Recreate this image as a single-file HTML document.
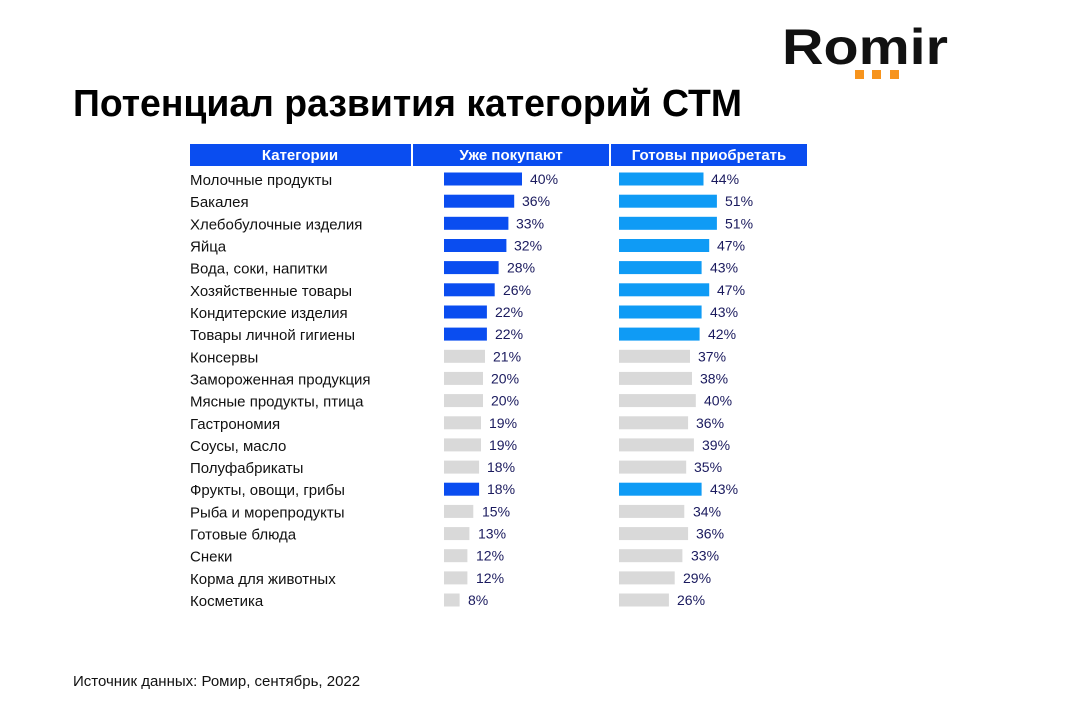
<!DOCTYPE html>
<html><head><meta charset="utf-8"><style>
body{margin:0;background:#fff;}
svg{display:block;}
text{font-family:"Liberation Sans",Arial,sans-serif;}
.c{font-size:15px;fill:#111;}
.v{font-size:14px;fill:#1a1a5e;}
</style></head><body>
<svg width="1066" height="720" viewBox="0 0 1066 720">
<text x="782" y="64" font-size="50" font-weight="bold" fill="#111" textLength="166" lengthAdjust="spacingAndGlyphs">Romir</text>
<rect x="855" y="70" width="9" height="9" fill="#f7941d"/>
<rect x="872" y="70" width="9" height="9" fill="#f7941d"/>
<rect x="890" y="70" width="9" height="9" fill="#f7941d"/>
<text x="73" y="116" font-size="38" font-weight="bold" fill="#000" textLength="669" lengthAdjust="spacingAndGlyphs">Потенциал развития категорий СТМ</text>
<rect x="190" y="144" width="221" height="22" fill="#0a4df0"/>
<rect x="413" y="144" width="196" height="22" fill="#0a4df0"/>
<rect x="611" y="144" width="196" height="22" fill="#0a4df0"/>
<g font-size="15" font-weight="bold" fill="#fff" text-anchor="middle">
<text x="300" y="160">Категории</text>
<text x="511" y="160">Уже покупают</text>
<text x="709" y="160">Готовы приобретать</text>
</g>

<g transform="translate(0,179)"><text class="c" x="190" y="6">Молочные продукты</text><rect x="444" y="-6.5" width="78" height="13" fill="#0a4df0"/><text class="v" x="530" y="5">40%</text><rect x="619" y="-6.5" width="84.5" height="13" fill="#0f9bf5"/><text class="v" x="711" y="5">44%</text></g>
<g transform="translate(0,201.2)"><text class="c" x="190" y="6">Бакалея</text><rect x="444" y="-6.5" width="70.2" height="13" fill="#0a4df0"/><text class="v" x="522" y="5">36%</text><rect x="619" y="-6.5" width="97.9" height="13" fill="#0f9bf5"/><text class="v" x="725" y="5">51%</text></g>
<g transform="translate(0,223.3)"><text class="c" x="190" y="6">Хлебобулочные изделия</text><rect x="444" y="-6.5" width="64.4" height="13" fill="#0a4df0"/><text class="v" x="516" y="5">33%</text><rect x="619" y="-6.5" width="97.9" height="13" fill="#0f9bf5"/><text class="v" x="725" y="5">51%</text></g>
<g transform="translate(0,245.5)"><text class="c" x="190" y="6">Яйца</text><rect x="444" y="-6.5" width="62.4" height="13" fill="#0a4df0"/><text class="v" x="514" y="5">32%</text><rect x="619" y="-6.5" width="90.2" height="13" fill="#0f9bf5"/><text class="v" x="717" y="5">47%</text></g>
<g transform="translate(0,267.6)"><text class="c" x="190" y="6">Вода, соки, напитки</text><rect x="444" y="-6.5" width="54.6" height="13" fill="#0a4df0"/><text class="v" x="507" y="5">28%</text><rect x="619" y="-6.5" width="82.6" height="13" fill="#0f9bf5"/><text class="v" x="710" y="5">43%</text></g>
<g transform="translate(0,289.8)"><text class="c" x="190" y="6">Хозяйственные товары</text><rect x="444" y="-6.5" width="50.7" height="13" fill="#0a4df0"/><text class="v" x="503" y="5">26%</text><rect x="619" y="-6.5" width="90.2" height="13" fill="#0f9bf5"/><text class="v" x="717" y="5">47%</text></g>
<g transform="translate(0,312)"><text class="c" x="190" y="6">Кондитерские изделия</text><rect x="444" y="-6.5" width="42.9" height="13" fill="#0a4df0"/><text class="v" x="495" y="5">22%</text><rect x="619" y="-6.5" width="82.6" height="13" fill="#0f9bf5"/><text class="v" x="710" y="5">43%</text></g>
<g transform="translate(0,334.1)"><text class="c" x="190" y="6">Товары личной гигиены</text><rect x="444" y="-6.5" width="42.9" height="13" fill="#0a4df0"/><text class="v" x="495" y="5">22%</text><rect x="619" y="-6.5" width="80.6" height="13" fill="#0f9bf5"/><text class="v" x="708" y="5">42%</text></g>
<g transform="translate(0,356.3)"><text class="c" x="190" y="6">Консервы</text><rect x="444" y="-6.5" width="41" height="13" fill="#d9d9d9"/><text class="v" x="493" y="5">21%</text><rect x="619" y="-6.5" width="71" height="13" fill="#d9d9d9"/><text class="v" x="698" y="5">37%</text></g>
<g transform="translate(0,378.4)"><text class="c" x="190" y="6">Замороженная продукция</text><rect x="444" y="-6.5" width="39" height="13" fill="#d9d9d9"/><text class="v" x="491" y="5">20%</text><rect x="619" y="-6.5" width="73" height="13" fill="#d9d9d9"/><text class="v" x="700" y="5">38%</text></g>
<g transform="translate(0,400.6)"><text class="c" x="190" y="6">Мясные продукты, птица</text><rect x="444" y="-6.5" width="39" height="13" fill="#d9d9d9"/><text class="v" x="491" y="5">20%</text><rect x="619" y="-6.5" width="76.8" height="13" fill="#d9d9d9"/><text class="v" x="704" y="5">40%</text></g>
<g transform="translate(0,422.8)"><text class="c" x="190" y="6">Гастрономия</text><rect x="444" y="-6.5" width="37" height="13" fill="#d9d9d9"/><text class="v" x="489" y="5">19%</text><rect x="619" y="-6.5" width="69.1" height="13" fill="#d9d9d9"/><text class="v" x="696" y="5">36%</text></g>
<g transform="translate(0,444.9)"><text class="c" x="190" y="6">Соусы, масло</text><rect x="444" y="-6.5" width="37" height="13" fill="#d9d9d9"/><text class="v" x="489" y="5">19%</text><rect x="619" y="-6.5" width="74.9" height="13" fill="#d9d9d9"/><text class="v" x="702" y="5">39%</text></g>
<g transform="translate(0,467.1)"><text class="c" x="190" y="6">Полуфабрикаты</text><rect x="444" y="-6.5" width="35.1" height="13" fill="#d9d9d9"/><text class="v" x="487" y="5">18%</text><rect x="619" y="-6.5" width="67.2" height="13" fill="#d9d9d9"/><text class="v" x="694" y="5">35%</text></g>
<g transform="translate(0,489.2)"><text class="c" x="190" y="6">Фрукты, овощи, грибы</text><rect x="444" y="-6.5" width="35.1" height="13" fill="#0a4df0"/><text class="v" x="487" y="5">18%</text><rect x="619" y="-6.5" width="82.6" height="13" fill="#0f9bf5"/><text class="v" x="710" y="5">43%</text></g>
<g transform="translate(0,511.4)"><text class="c" x="190" y="6">Рыба и морепродукты</text><rect x="444" y="-6.5" width="29.3" height="13" fill="#d9d9d9"/><text class="v" x="482" y="5">15%</text><rect x="619" y="-6.5" width="65.3" height="13" fill="#d9d9d9"/><text class="v" x="693" y="5">34%</text></g>
<g transform="translate(0,533.6)"><text class="c" x="190" y="6">Готовые блюда</text><rect x="444" y="-6.5" width="25.4" height="13" fill="#d9d9d9"/><text class="v" x="478" y="5">13%</text><rect x="619" y="-6.5" width="69.1" height="13" fill="#d9d9d9"/><text class="v" x="696" y="5">36%</text></g>
<g transform="translate(0,555.7)"><text class="c" x="190" y="6">Снеки</text><rect x="444" y="-6.5" width="23.4" height="13" fill="#d9d9d9"/><text class="v" x="476" y="5">12%</text><rect x="619" y="-6.5" width="63.4" height="13" fill="#d9d9d9"/><text class="v" x="691" y="5">33%</text></g>
<g transform="translate(0,577.9)"><text class="c" x="190" y="6">Корма для животных</text><rect x="444" y="-6.5" width="23.4" height="13" fill="#d9d9d9"/><text class="v" x="476" y="5">12%</text><rect x="619" y="-6.5" width="55.7" height="13" fill="#d9d9d9"/><text class="v" x="683" y="5">29%</text></g>
<g transform="translate(0,600)"><text class="c" x="190" y="6">Косметика</text><rect x="444" y="-6.5" width="15.6" height="13" fill="#d9d9d9"/><text class="v" x="468" y="5">8%</text><rect x="619" y="-6.5" width="49.9" height="13" fill="#d9d9d9"/><text class="v" x="677" y="5">26%</text></g>

<text x="73" y="686" font-size="15" fill="#111">Источник данных: Ромир, сентябрь, 2022</text>
</svg>
</body></html>
